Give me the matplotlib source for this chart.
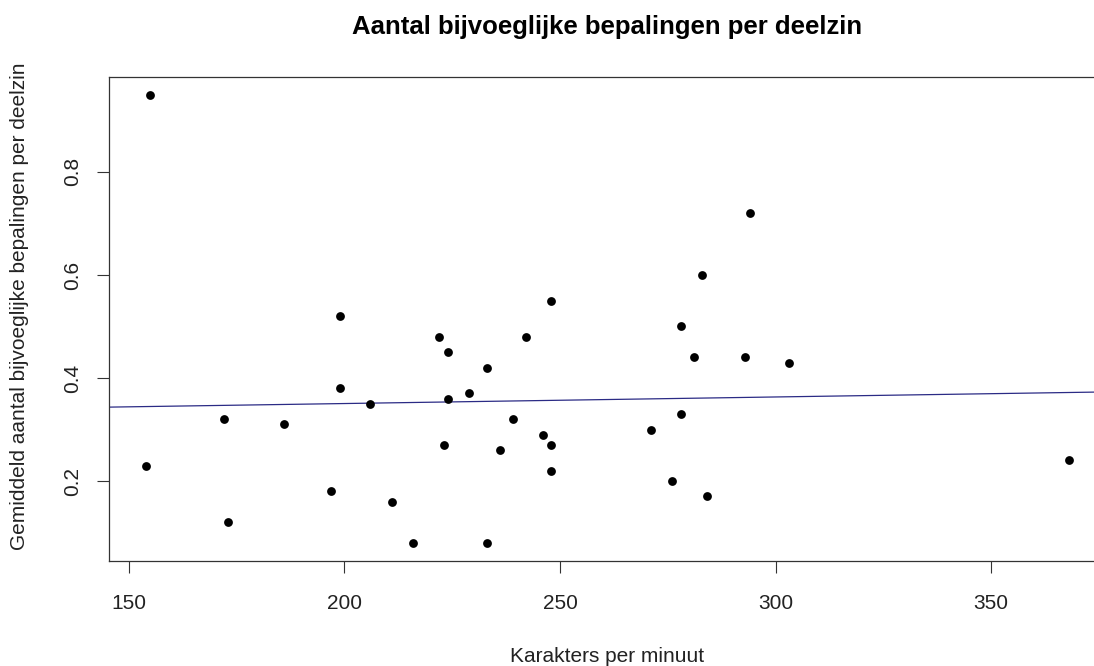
import numpy as np
import matplotlib
matplotlib.use("Agg")
import matplotlib.pyplot as plt

# characters per minute vs mean number of attributive modifiers per clause
kpm = [155, 154, 172, 173, 186, 197, 199, 199, 206, 211, 216, 222,
       223, 224, 224, 229, 233, 233, 236, 239, 242, 246, 248, 248,
       248, 271, 276, 278, 278, 281, 283, 284, 293, 294, 303, 368]
bijv = [0.95, 0.23, 0.32, 0.12, 0.31, 0.18, 0.52, 0.38, 0.35, 0.16, 0.08, 0.48,
        0.27, 0.45, 0.36, 0.37, 0.42, 0.08, 0.26, 0.32, 0.48, 0.29, 0.55, 0.27,
        0.22, 0.30, 0.20, 0.50, 0.33, 0.44, 0.60, 0.17, 0.44, 0.72, 0.43, 0.24]

x_ticks = [150, 200, 250, 300, 350]
y_ticks = [0.2, 0.4, 0.6, 0.8]

plt.rcParams['font.family'] = ['Liberation Sans', 'DejaVu Sans']

fig = plt.figure(figsize=(10.94, 6.66), dpi=100)
# plot region runs past the right edge, like the cropped original
ax = fig.add_axes([0.0998, 0.158, 0.9109, 0.7268])

x = np.array(kpm)
y = np.array(bijv)
ax.scatter(x, y, s=40, color='black', zorder=3, linewidths=0)

# lm fit, drawn like abline()
slope, intercept = np.polyfit(x, y, 1)
ax.axline((0, intercept), slope=slope, color='#2b2b85', lw=0.9, zorder=2)

# R style 4% padding on the data range
xr = x.max() - x.min()
yr = y.max() - y.min()
ax.set_xlim(x.min() - 0.04 * xr, x.max() + 0.04 * xr)
ax.set_ylim(y.min() - 0.04 * yr, y.max() + 0.04 * yr)

ax.set_xticks(x_ticks)
ax.set_yticks(y_ticks)
ax.set_yticklabels([str(v) for v in y_ticks], rotation=90, va='center')
ax.tick_params(direction='out', length=8.6, width=0.8, labelsize=15,
               color='#333333', labelcolor='#222222')
ax.tick_params(axis='x', pad=15)
ax.tick_params(axis='y', pad=11)

for side in ['left', 'bottom', 'top']:
    ax.spines[side].set_linewidth(0.9)
    ax.spines[side].set_color('#333333')
ax.spines['right'].set_visible(False)

ax.set_xlabel("Karakters per minuut", fontsize=15, labelpad=25, color='#222222')
ax.set_ylabel("Gemiddeld aantal bijvoeglijke bepalingen per deelzin",
              fontsize=15, color='#222222')
ax.yaxis.set_label_coords(-0.080, 0.525)
ax.set_title("Aantal bijvoeglijke bepalingen per deelzin",
             fontsize=18.5, fontweight='bold', pad=31)

fig.savefig("out.png", dpi=100)
